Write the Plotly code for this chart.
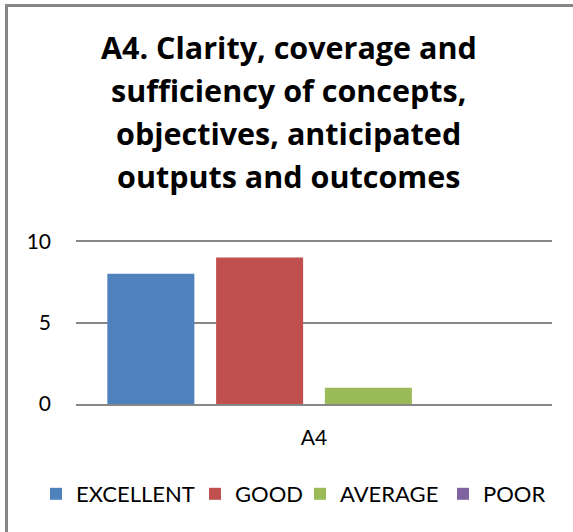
import plotly.graph_objects as go

categories = ["A4"]
series_names = ["EXCELLENT", "GOOD", "AVERAGE", "POOR"]
series_values = [[8], [9], [1], [0]]
series_colors = ["#4F81BD", "#C0504D", "#9BBB59", "#8064A2"]
legend_widths = [114, 60, 98, 62]
y_ticks = [0, 5, 10]
title_lines = ["A4. Clarity, coverage and",
               "sufficiency of concepts,",
               "objectives, anticipated",
               "outputs and outcomes"]

W, H = 573, 532
ml, mr, mt, mb = 76, 21, 240, 128
pw, ph = W - ml - mr, H - mt - mb
y_top = 10.08

fig = go.Figure()
for name, vals, col, lw in zip(series_names, series_values, series_colors, legend_widths):
    fig.add_trace(go.Bar(name=name, x=categories, y=vals, marker_color=col,
                         marker_line_width=0, legendwidth=lw))

def px_to_paper_x(px):
    return (px - ml) / pw

def px_to_paper_y(py):
    return (H - mb - py) / ph

# chart border (left and top, like the cropped Excel chart)
bx = px_to_paper_x(6.5)
by = px_to_paper_y(5.5)
fig.add_shape(type="line", xref="paper", yref="paper", x0=bx, x1=bx,
              y0=px_to_paper_y(H + 5), y1=by, line=dict(color="#878787", width=3))
fig.add_shape(type="line", xref="paper", yref="paper", x0=bx - 0.003, x1=px_to_paper_x(W + 5),
              y0=by, y1=by, line=dict(color="#878787", width=3))

font_family = "Lato, 'Open Sans', sans-serif"
title_font = dict(family="'Open Sans', Lato, sans-serif", size=30.5, color="black")

line_centers = [47, 90, 133, 176]
for txt, cy in zip(title_lines, line_centers):
    fig.add_annotation(text="<b>" + txt + "</b>", xref="paper", yref="paper",
                       x=px_to_paper_x(288.5), y=px_to_paper_y(cy),
                       xanchor="center", yanchor="middle", showarrow=False,
                       font=title_font)

fig.update_layout(
    width=W, height=H,
    margin=dict(l=ml, r=mr, t=mt, b=mb, pad=0, autoexpand=False),
    paper_bgcolor="white", plot_bgcolor="white",
    barmode="group", bargap=0.086, bargroupgap=0.2,
    showlegend=True,
    legend=dict(orientation="h", x=px_to_paper_x(36), xanchor="left", xref="paper",
                y=px_to_paper_y(494), yref="paper", yanchor="middle",
                font=dict(family=font_family, size=22, color="black"),
                itemwidth=30, tracegroupgap=0, itemclick=False, itemdoubleclick=False),
    font=dict(family=font_family, size=21, color="black"),
)
fig.update_yaxes(range=[0, y_top], tickvals=y_ticks, showgrid=True, gridcolor="#878787",
                 gridwidth=2, zeroline=False, showline=False, ticks="",
                 ticklabelstandoff=24, tickfont=dict(size=21))
fig.update_xaxes(showline=True, linecolor="#878787", linewidth=2, ticks="",
                 ticklabelstandoff=14, tickfont=dict(size=21))

fig.write_html("out.html", config={"displayModeBar": False},
               post_script="document.body.style.margin='0';document.body.style.overflow='hidden';")
